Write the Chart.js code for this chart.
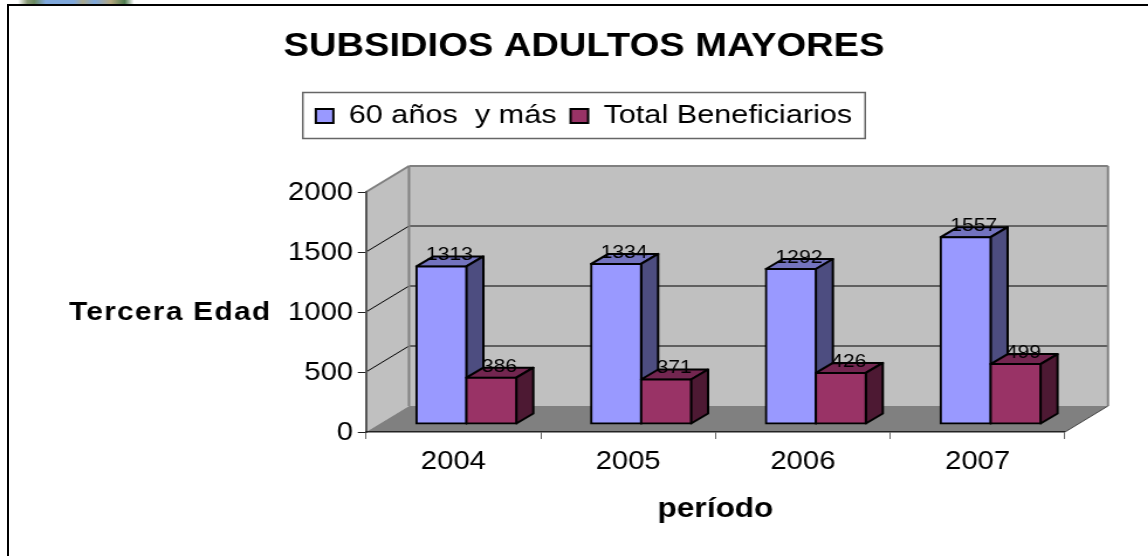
<!DOCTYPE html>
<html lang="es">
<head>
<meta charset="utf-8">
<title>Subsidios adultos mayores</title>
<style>
  html, body { margin: 0; padding: 0; background: #fff; width: 1148px; height: 556px; overflow: hidden; }
  #wrap { position: relative; width: 1148px; height: 556px; overflow: hidden; }
  #c { position: absolute; left: 0; top: 0; width: 1168px !important; height: 556px !important; display: block; }
  #logo { position: absolute; left: 18px; top: 0; width: 116px; height: 4px;
    background: linear-gradient(90deg, #fff 0, #8a9a78 8%, #6a8a60 14%, #7fa8dc 24%, #7fa8dc 48%, #a9a88f 56%, #7fa8dc 66%, #b5a77f 80%, #4f7c4f 92%, #fff 100%); }
  #frame { position: absolute; left: 7px; top: 4px; right: -4px; bottom: -4px; border-left: 2px solid #000; border-top: 2px solid #000; }
</style>
</head>
<body>
<div id="wrap">
  <div id="logo"></div>
  <canvas id="c" width="998" height="556"></canvas>
  <div id="frame"></div>
</div>
<script src="https://cdn.jsdelivr.net/npm/chart.js@4/dist/chart.umd.min.js"></script>
<script>
const titleText = 'SUBSIDIOS ADULTOS MAYORES';
const yTitle = 'Tercera Edad';
const xTitle = 'período';
const categories = ['2004', '2005', '2006', '2007'];
const seriesNames = ['60 años  y más', 'Total Beneficiarios'];
const values60 = [1313, 1334, 1292, 1557];
const valuesTotal = [386, 371, 426, 499];

const STRETCH = 1168 / 998;            // page width of the canvas / its drawing width
const px = v => v / STRETCH;           // horizontal page pixels -> canvas pixels
const FONT = '"Liberation Sans", Arial, sans-serif';
const PLOT = { left: px(366), right: px(1065), top: 192, bottom: 432 };
const SIDE_PAD = 998 - PLOT.right;     // equal on both sides, so full-width boxes stay centred
const WALL = { dx: px(43), dy: 26 };
const GAP = { dx: px(13), dy: 8 };
const DEPTH = { dx: px(17), dy: 10 };
const SHADES = [
  { top: '#7373BF', side: '#4D4D80' },
  { top: '#732650', side: '#4D1933' }
];

function poly(ctx, pts, fill, stroke, lw) {
  ctx.beginPath();
  pts.forEach((p, i) => i ? ctx.lineTo(p[0], p[1]) : ctx.moveTo(p[0], p[1]));
  ctx.closePath();
  if (fill) { ctx.fillStyle = fill; ctx.fill(); }
  if (stroke) { ctx.strokeStyle = stroke; ctx.lineWidth = lw; ctx.lineJoin = 'round'; ctx.stroke(); }
}
function line(ctx, x1, y1, x2, y2, color, lw) {
  ctx.beginPath(); ctx.moveTo(x1, y1); ctx.lineTo(x2, y2);
  ctx.strokeStyle = color; ctx.lineWidth = lw; ctx.stroke();
}
function drawFaces(chart, index) {
  const ctx = chart.ctx, shade = SHADES[index];
  chart.getDatasetMeta(index).data.forEach(bar => {
    const p = bar.getProps(['x', 'y', 'base', 'width'], true);
    const l = p.x - p.width / 2, r = p.x + p.width / 2;
    poly(ctx, [[l, p.y], [l + DEPTH.dx, p.y - DEPTH.dy], [r + DEPTH.dx, p.y - DEPTH.dy], [r, p.y]], shade.top, '#000', 2);
    poly(ctx, [[r, p.y], [r + DEPTH.dx, p.y - DEPTH.dy], [r + DEPTH.dx, p.base - DEPTH.dy], [r, p.base]], shade.side, '#000', 2);
  });
}

const box3d = {
  id: 'box3d',
  afterLayout(chart) {
    chart.legend.top = 91;
  },
  beforeDraw(chart) {
    const { ctx, chartArea: a, scales: { y } } = chart;
    const bx = WALL.dx, by = WALL.dy;
    ctx.save();
    poly(ctx, [[a.left + bx, a.top - by], [a.right + bx, a.top - by], [a.right + bx, a.bottom - by], [a.left + bx, a.bottom - by]], '#C0C0C0');
    poly(ctx, [[a.left, a.top], [a.left + bx, a.top - by], [a.left + bx, a.bottom - by], [a.left, a.bottom]], '#C0C0C0');
    poly(ctx, [[a.left, a.bottom], [a.left + bx, a.bottom - by], [a.right + bx, a.bottom - by], [a.right, a.bottom]], '#808080');
    y.ticks.forEach(t => {
      if (t.value === 0 || t.value === y.max) return;
      const py = y.getPixelForValue(t.value);
      const heavy = t.value === 1500;
      line(ctx, a.left, py, a.left + bx, py - by, '#000', 1);
      line(ctx, a.left + bx, py - by, a.right + bx, py - by, heavy ? '#666' : '#000', heavy ? 2 : 1);
    });
    line(ctx, a.left, a.top, a.left + bx, a.top - by, '#808080', 2);
    line(ctx, a.left + bx, a.top - by, a.right + bx, a.top - by, '#808080', 2);
    line(ctx, a.right + bx, a.top - by, a.right + bx, a.bottom - by, '#808080', 2);
    line(ctx, a.left + bx, a.top - by, a.left + bx, a.bottom - by, '#808080', 2);
    line(ctx, a.right, a.bottom, a.right + bx, a.bottom - by, '#444', 1);
    ctx.restore();
  },
  beforeDatasetsDraw(chart) {
    chart.ctx.save();
    chart.ctx.translate(GAP.dx, -GAP.dy);
  },
  // Chart.js paints the last dataset first; the second series must sit on top here,
  // so it is held back and painted right after the first.
  beforeDatasetDraw(chart, args) {
    if (args.index === 1) return false;
    drawFaces(chart, args.index);
  },
  afterDatasetDraw(chart, args) {
    if (args.index !== 0) return;
    drawFaces(chart, 1);
    chart.getDatasetMeta(1).controller.draw();
  },
  afterDatasetsDraw(chart) {
    const ctx = chart.ctx;
    ctx.fillStyle = '#000';
    ctx.font = '18px ' + FONT;
    ctx.textAlign = 'center';
    ctx.textBaseline = 'middle';
    chart.data.datasets.forEach((ds, i) => {
      chart.getDatasetMeta(i).data.forEach((bar, j) => {
        const p = bar.getProps(['x', 'y'], true);
        ctx.fillText(String(ds.data[j]), p.x + px(8), p.y - 11);
      });
    });
    ctx.restore();
  },
  afterDraw(chart) {
    const { ctx, legend } = chart;
    const hb = legend.legendHitBoxes, last = hb[hb.length - 1];
    ctx.save();
    ctx.strokeStyle = '#666';
    ctx.lineWidth = 1.5;
    ctx.strokeRect(hb[0].left - px(13), 92.5, last.left + last.width - hb[0].left + px(26), 46);
    ctx.fillStyle = '#000';
    ctx.font = 'bold 25.5px ' + FONT;
    ctx.letterSpacing = '1.1px';
    ctx.textAlign = 'left';
    ctx.textBaseline = 'middle';
    ctx.fillText(yTitle, px(69), 313);
    ctx.restore();
  }
};

const chart = new Chart(document.getElementById('c'), {
  type: 'bar',
  data: {
    labels: categories,
    datasets: [
      { label: seriesNames[0], data: values60, backgroundColor: '#9999FF', borderColor: '#000', borderWidth: 2, borderSkipped: false, inflateAmount: 1 },
      { label: seriesNames[1], data: valuesTotal, backgroundColor: '#993366', borderColor: '#000', borderWidth: 2, borderSkipped: false, inflateAmount: 1 }
    ]
  },
  options: {
    responsive: false,
    animation: false,
    devicePixelRatio: 1,
    categoryPercentage: 100 / 175,
    barPercentage: 1,
    layout: { padding: { left: SIDE_PAD, right: SIDE_PAD, top: 0, bottom: 0 } },
    datasets: { bar: { clip: false } },
    plugins: {
      tooltip: { enabled: false },
      title: {
        display: true, text: titleText, color: '#000',
        font: { family: FONT, size: 32.6, weight: 'bold', lineHeight: 1.2 },
        padding: { top: 27, bottom: 40 }
      },
      legend: {
        display: true, position: 'top',
        labels: {
          color: '#000', boxWidth: 15, boxHeight: 14, padding: 12,
          font: { family: FONT, size: 26.2 }
        }
      }
    },
    scales: {
      y: {
        min: 0, max: 2000,
        afterFit(s) { s.width = PLOT.left - SIDE_PAD; },
        ticks: { stepSize: 500, color: '#000', padding: 4, labelOffset: 1.5, font: { family: FONT, size: 25 }, callback: v => String(v) },
        grid: { drawOnChartArea: false, drawTicks: true, tickLength: 7, color: '#222', lineWidth: 1 },
        border: { display: true, color: '#555', width: 2 }
      },
      x: {
        afterFit(s) { s.height = 556 - PLOT.bottom; },
        ticks: { color: '#000', padding: 8, font: { family: FONT, size: 25 }, maxRotation: 0 },
        grid: { drawOnChartArea: false, drawTicks: true, tickLength: 7, color: '#666', lineWidth: 1 },
        border: { display: true, color: '#222', width: 1.5 },
        title: {
          display: true, text: xTitle, color: '#000',
          font: { family: FONT, size: 27, weight: 'bold', lineHeight: 1.2 },
          padding: { top: 0, bottom: 30 }
        }
      }
    }
  },
  plugins: [box3d]
});
chart.options.plugins.title.padding.bottom += PLOT.top - chart.chartArea.top;
chart.update('none');
</script>
</body>
</html>
